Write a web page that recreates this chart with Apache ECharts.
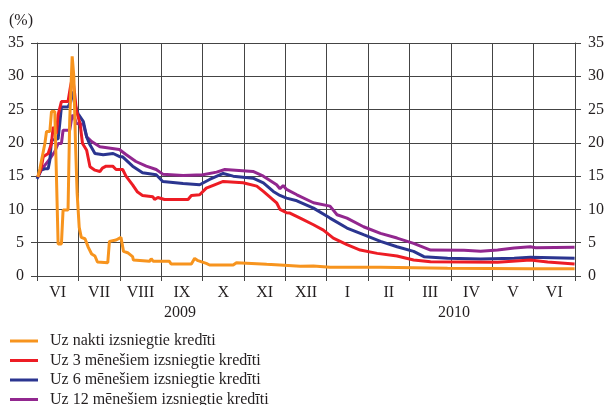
<!DOCTYPE html>
<html>
<head>
<meta charset="utf-8">
<script src="https://cdn.jsdelivr.net/npm/echarts@6/dist/echarts.min.js"></script>
<style>
    html, body { margin: 0; padding: 0; background: #fff; }
    #chart { width: 607px; height: 405px; }
</style>
</head>
<body>
<div id="chart"></div>
<script>
// menesi: 2009 VI .. 2010 VI, x = menesi kops 2009. gada 1. jūnija
var months = ["VI", "VII", "VIII", "IX", "X", "XI", "XII", "I", "II", "III", "IV", "V", "VI"];
var yTicks = [0, 5, 10, 15, 20, 25, 30, 35];
var names = ["Uz nakti izsniegtie kredīti", "Uz 3 mēnešiem izsniegtie kredīti", "Uz 6 mēnešiem izsniegtie kredīti", "Uz 12 mēnešiem izsniegtie kredīti"];

var overnight = [[0.02, 14.9], [0.07, 16.1], [0.19, 19.9], [0.23, 21.7], [0.31, 21.7], [0.35, 24.7], [0.43, 24.7], [0.47, 14.9], [0.51, 4.8], [0.59, 4.8], [0.63, 9.9], [0.75, 9.9], [0.79, 23.4], [0.85, 33.0], [0.89, 30.0], [0.93, 19.9], [0.97, 12.4], [1.02, 7.3], [1.07, 5.8], [1.16, 5.6], [1.24, 4.3], [1.32, 3.3], [1.40, 3.0], [1.46, 2.1], [1.71, 2.0], [1.75, 5.2], [1.91, 5.4], [2.03, 5.8], [2.09, 3.7], [2.19, 3.5], [2.31, 2.9], [2.33, 2.4], [2.72, 2.2], [2.76, 2.6], [2.81, 2.2], [3.20, 2.2], [3.24, 1.8], [3.73, 1.8], [3.81, 2.65], [3.89, 2.3], [4.09, 1.9], [4.17, 1.65], [4.74, 1.65], [4.82, 2.0], [5.55, 1.75], [5.87, 1.65], [6.36, 1.45], [6.68, 1.5], [7.08, 1.3], [8.30, 1.3], [9.92, 1.15], [11.92, 1.1], [12.99, 1.1]];
var m3 = [[0.02, 14.9], [0.10, 16.1], [0.15, 17.9], [0.27, 18.4], [0.35, 19.9], [0.39, 22.4], [0.47, 21.4], [0.51, 24.2], [0.59, 26.2], [0.75, 26.2], [0.81, 28.5], [0.86, 30.0], [0.91, 27.4], [0.95, 24.9], [1.04, 22.9], [1.10, 19.9], [1.20, 18.9], [1.28, 16.4], [1.40, 15.9], [1.52, 15.7], [1.58, 16.2], [1.67, 16.5], [1.83, 16.5], [1.91, 16.0], [2.07, 16.0], [2.15, 15.0], [2.31, 13.7], [2.43, 12.6], [2.55, 12.1], [2.80, 11.9], [2.84, 11.5], [2.92, 11.8], [3.08, 11.5], [3.65, 11.5], [3.73, 12.1], [3.93, 12.2], [4.09, 13.2], [4.29, 13.7], [4.50, 14.2], [4.98, 14.0], [5.31, 13.5], [5.47, 12.7], [5.79, 11.0], [5.87, 10.0], [6.03, 9.5], [6.11, 9.45], [6.36, 8.7], [6.68, 7.7], [6.92, 6.9], [7.16, 5.7], [7.49, 4.7], [7.81, 3.9], [8.22, 3.4], [8.70, 3.0], [9.10, 2.4], [9.51, 2.15], [10.32, 2.1], [11.13, 2.05], [11.92, 2.4], [12.34, 2.1], [12.99, 1.8]];
var m6 = [[0.0, 14.6], [0.10, 15.9], [0.19, 16.1], [0.27, 16.1], [0.31, 17.4], [0.35, 20.4], [0.51, 20.6], [0.55, 22.9], [0.59, 25.4], [0.75, 25.4], [0.79, 25.9], [0.85, 27.7], [0.91, 25.9], [0.99, 24.4], [1.12, 23.2], [1.20, 20.9], [1.28, 19.7], [1.40, 18.4], [1.60, 18.2], [1.84, 18.4], [2.01, 17.9], [2.07, 17.9], [2.31, 16.5], [2.55, 15.5], [2.88, 15.2], [3.04, 14.2], [3.53, 13.9], [3.93, 13.7], [4.17, 14.5], [4.50, 15.4], [4.74, 15.0], [5.22, 14.7], [5.47, 14.0], [5.71, 12.7], [5.87, 12.1], [6.03, 11.7], [6.28, 11.3], [6.68, 10.2], [7.08, 8.7], [7.49, 7.2], [7.89, 6.2], [8.30, 5.2], [8.70, 4.4], [9.10, 3.7], [9.35, 2.9], [9.92, 2.65], [10.72, 2.55], [11.53, 2.65], [11.92, 2.8], [12.99, 2.65]];
var m12 = [[0.02, 14.9], [0.10, 15.9], [0.31, 17.6], [0.43, 18.7], [0.51, 19.9], [0.59, 19.9], [0.63, 21.9], [0.79, 21.9], [0.85, 24.2], [0.91, 23.7], [0.95, 22.9], [1.12, 22.8], [1.20, 20.9], [1.32, 20.2], [1.52, 19.4], [1.99, 19.0], [2.15, 18.25], [2.39, 17.2], [2.64, 16.5], [2.88, 16.0], [3.04, 15.3], [3.53, 15.1], [4.01, 15.2], [4.34, 15.6], [4.54, 16.0], [5.22, 15.7], [5.47, 15.0], [5.79, 13.7], [5.87, 13.1], [5.95, 13.6], [6.03, 13.0], [6.28, 12.2], [6.68, 11.0], [7.08, 10.5], [7.25, 9.2], [7.49, 8.7], [7.89, 7.4], [8.30, 6.4], [8.70, 5.7], [9.10, 4.9], [9.51, 3.9], [10.32, 3.85], [10.72, 3.7], [11.13, 3.9], [11.53, 4.2], [11.92, 4.4], [12.05, 4.25], [12.99, 4.3]];

var font = "Liberation Serif";
var ink = "#231f20";
var gridColor = "#444";

function yAxisFor(pos) {
    return {
        type: "value",
        position: pos,
        min: yTicks[0],
        max: yTicks[yTicks.length - 1],
        interval: 5,
        axisLine: { show: true, lineStyle: { color: gridColor, width: 1 } },
        axisTick: { show: true, length: 6, lineStyle: { color: gridColor } },
        axisLabel: { margin: 13, color: ink, fontFamily: font, fontSize: 16 },
        splitLine: { show: pos == "left", lineStyle: { color: gridColor, width: 1 } }
    }
}

function lineSeries(name, data, color) {
    return {
        name: name,
        type: "line",
        xAxisIndex: 0,
        yAxisIndex: 0,
        data: data,
        showSymbol: false,
        symbol: "none",
        lineStyle: { color: color, width: 3 },
        itemStyle: { color: color }
    }
}

var option = {
    animation: false,
    grid: { left: 37, right: 31, top: 43, bottom: 129 },
    xAxis: [{
        type: "value",
        min: 0,
        max: 13,
        show: false
    },
    {
        type: "category",
        position: "bottom",
        data: months,
        boundaryGap: true,
        axisLine: { show: true, lineStyle: { color: gridColor, width: 1 } },
        axisTick: { show: true, length: 5, lineStyle: { color: gridColor } },
        axisLabel: { margin: 9, color: ink, fontFamily: font, fontSize: 16, interval: 0 },
        splitLine: { show: true, interval: 0, lineStyle: { color: gridColor, width: 1 } }
    }],
    yAxis: [yAxisFor("left"), yAxisFor("right")],
    legend: {
        orient: "vertical",
        left: 10,
        top: 333,
        height: 120,
        padding: 0,
        icon: "rect",
        itemWidth: 28,
        itemHeight: 3,
        itemGap: 3.5,
        data: names,
        textStyle: { color: ink, fontFamily: font, fontSize: 16, lineHeight: 16, padding: [0, 0, 0, 7] }
    },
    graphic: [
        { type: "text", left: 9, top: 13, style: { text: "(%)", fill: ink, font: "16px " + font } },
        { type: "text", x: 180, y: 313, style: { text: "2009", fill: ink, font: "16px " + font, align: "center", verticalAlign: "middle" } },
        { type: "text", x: 454, y: 313, style: { text: "2010", fill: ink, font: "16px " + font, align: "center", verticalAlign: "middle" } }
    ],
    series: [
        lineSeries(names[3], m12, "#92278f"),
        lineSeries(names[2], m6, "#2b3590"),
        lineSeries(names[1], m3, "#ed1c24"),
        lineSeries(names[0], overnight, "#f7941e")
    ]
};

var myChart = echarts.init(document.getElementById("chart"));
myChart.setOption(option);
</script>
</body>
</html>
